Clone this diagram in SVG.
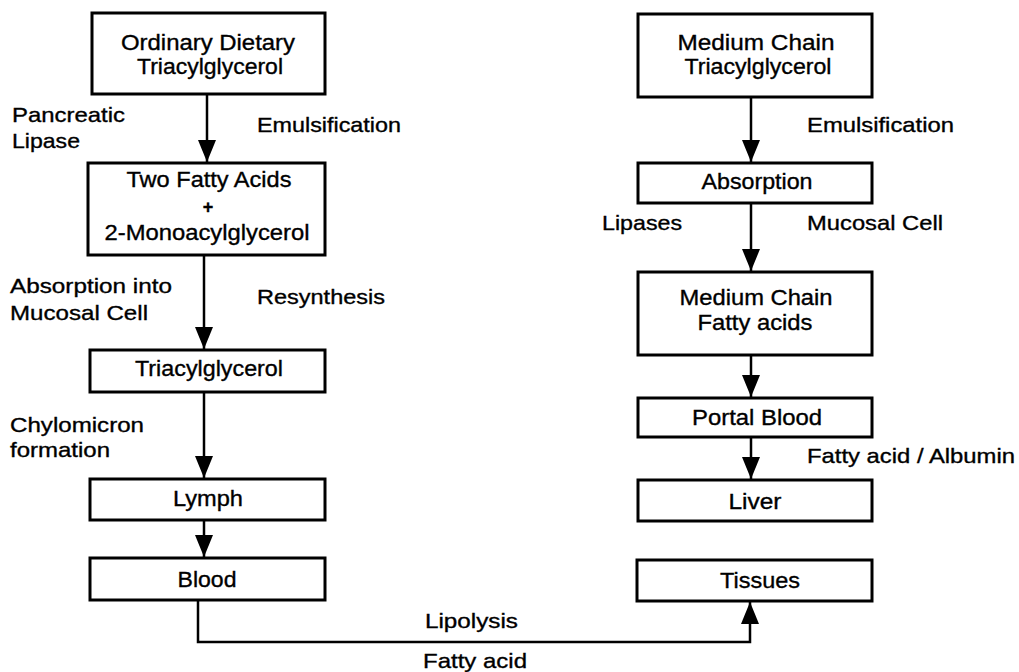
<svg xmlns="http://www.w3.org/2000/svg" width="1019" height="672" viewBox="0 0 1019 672">
<style>
.box{fill:#fff;stroke:#000;stroke-width:3}
.t{font-family:"Liberation Sans",Arial,sans-serif;font-size:22px;fill:#000;stroke:#000;stroke-width:0.35;text-anchor:middle}
.l{font-family:"Liberation Sans",Arial,sans-serif;font-size:21px;fill:#000;stroke:#000;stroke-width:0.35}
.c{fill:none;stroke:#000;stroke-width:2.5}
</style>
<defs>
<marker id="ah" markerUnits="userSpaceOnUse" markerWidth="22" markerHeight="18" refX="22" refY="9" orient="auto" viewBox="0 0 22 18">
<path d="M0,0 L22,9 L0,18 z" fill="#000"/>
</marker>
</defs>
<rect width="1019" height="672" fill="#fff"/>

<g id="n1"><rect class="box" x="92" y="13" width="233" height="81"/>
<text class="t" x="208" y="50" textLength="174" lengthAdjust="spacingAndGlyphs">Ordinary Dietary</text>
<text class="t" x="210" y="74" textLength="146" lengthAdjust="spacingAndGlyphs">Triacylglycerol</text></g>
<g id="n2"><rect class="box" x="88" y="163" width="237" height="92"/>
<text class="t" x="209" y="187" textLength="165" lengthAdjust="spacingAndGlyphs">Two Fatty Acids</text>
<text class="t" x="208" y="213" style="font-size:18px;font-weight:bold">+</text>
<text class="t" x="207" y="240" textLength="205" lengthAdjust="spacingAndGlyphs">2-Monoacylglycerol</text></g>
<g id="n3"><rect class="box" x="90" y="350" width="235" height="42"/>
<text class="t" x="209" y="376" textLength="148" lengthAdjust="spacingAndGlyphs">Triacylglycerol</text></g>
<g id="n4"><rect class="box" x="90" y="479" width="235" height="41"/>
<text class="t" x="208" y="506" textLength="70" lengthAdjust="spacingAndGlyphs">Lymph</text></g>
<g id="n5"><rect class="box" x="90" y="558" width="235" height="42"/>
<text class="t" x="207" y="587" textLength="59" lengthAdjust="spacingAndGlyphs">Blood</text></g>

<g id="r1"><rect class="box" x="638" y="14" width="234" height="83"/>
<text class="t" x="756" y="50" textLength="157" lengthAdjust="spacingAndGlyphs">Medium Chain</text>
<text class="t" x="758" y="74" textLength="147" lengthAdjust="spacingAndGlyphs">Triacylglycerol</text></g>
<g id="r2"><rect class="box" x="638" y="163" width="234" height="40"/>
<text class="t" x="757" y="189" textLength="111" lengthAdjust="spacingAndGlyphs">Absorption</text></g>
<g id="r3"><rect class="box" x="638" y="272" width="234" height="83"/>
<text class="t" x="756" y="305" textLength="153" lengthAdjust="spacingAndGlyphs">Medium Chain</text>
<text class="t" x="755" y="330" textLength="115" lengthAdjust="spacingAndGlyphs">Fatty acids</text></g>
<g id="r4"><rect class="box" x="638" y="398" width="234" height="39"/>
<text class="t" x="757" y="425" textLength="130" lengthAdjust="spacingAndGlyphs">Portal Blood</text></g>
<g id="r5"><rect class="box" x="638" y="480" width="234" height="41"/>
<text class="t" x="755" y="509" textLength="53" lengthAdjust="spacingAndGlyphs">Liver</text></g>
<g id="r6"><rect class="box" x="637" y="560" width="235" height="41"/>
<text class="t" x="760" y="588" textLength="80" lengthAdjust="spacingAndGlyphs">Tissues</text></g>

<g id="connectors">
<line class="c" x1="207" y1="94" x2="207" y2="162" marker-end="url(#ah)"/>
<line class="c" x1="204" y1="255" x2="204" y2="349" marker-end="url(#ah)"/>
<line class="c" x1="204" y1="392" x2="204" y2="478" marker-end="url(#ah)"/>
<line class="c" x1="204" y1="520" x2="204" y2="557" marker-end="url(#ah)"/>
<path class="c" d="M198,600 V642 H750 V602" marker-end="url(#ah)"/>
<line class="c" x1="751" y1="97" x2="751" y2="162" marker-end="url(#ah)"/>
<line class="c" x1="751" y1="203" x2="751" y2="271" marker-end="url(#ah)"/>
<line class="c" x1="751" y1="355" x2="751" y2="397" marker-end="url(#ah)"/>
<line class="c" x1="751" y1="437" x2="751" y2="479" marker-end="url(#ah)"/>
</g>

<g id="labels">
<text class="l" x="12" y="122" textLength="113" lengthAdjust="spacingAndGlyphs">Pancreatic</text>
<text class="l" x="12" y="148" textLength="68" lengthAdjust="spacingAndGlyphs">Lipase</text>
<text class="l" x="257" y="132" textLength="144" lengthAdjust="spacingAndGlyphs">Emulsification</text>
<text class="l" x="10" y="293" textLength="162" lengthAdjust="spacingAndGlyphs">Absorption into</text>
<text class="l" x="10" y="320" textLength="138" lengthAdjust="spacingAndGlyphs">Mucosal Cell</text>
<text class="l" x="257" y="304" textLength="128" lengthAdjust="spacingAndGlyphs">Resynthesis</text>
<text class="l" x="10" y="432" textLength="134" lengthAdjust="spacingAndGlyphs">Chylomicron</text>
<text class="l" x="10" y="457" textLength="100" lengthAdjust="spacingAndGlyphs">formation</text>
<text class="l" x="425" y="628" textLength="93" lengthAdjust="spacingAndGlyphs">Lipolysis</text>
<text class="l" x="423" y="668" textLength="104" lengthAdjust="spacingAndGlyphs">Fatty acid</text>
<text class="l" x="807" y="132" textLength="147" lengthAdjust="spacingAndGlyphs">Emulsification</text>
<text class="l" x="602" y="230" textLength="80" lengthAdjust="spacingAndGlyphs">Lipases</text>
<text class="l" x="807" y="230" textLength="136" lengthAdjust="spacingAndGlyphs">Mucosal Cell</text>
<text class="l" x="807" y="463" textLength="208" lengthAdjust="spacingAndGlyphs">Fatty acid / Albumin</text>
</g>
</svg>
